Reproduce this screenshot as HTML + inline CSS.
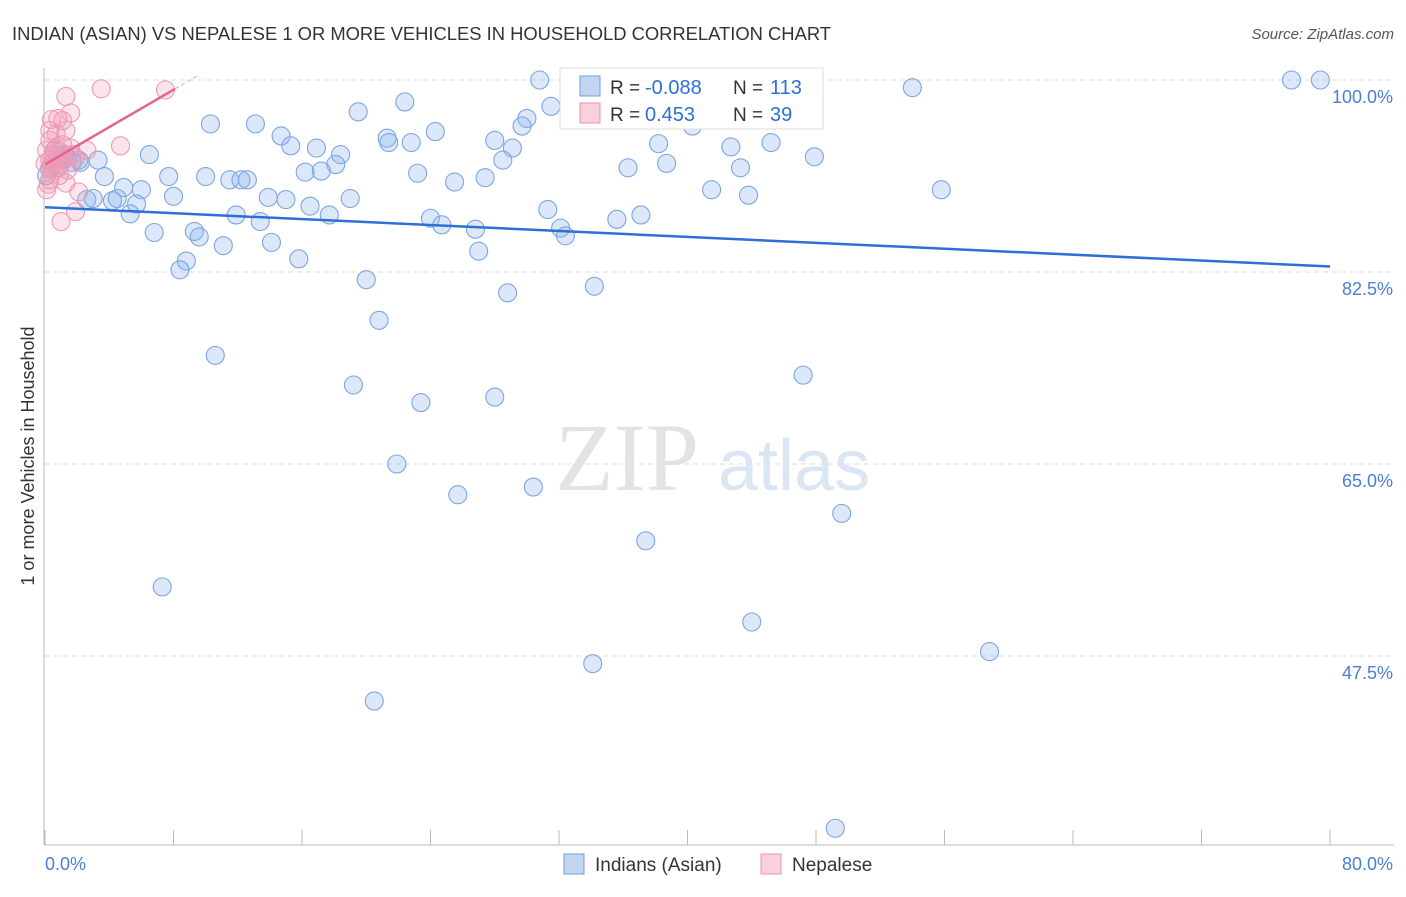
<!DOCTYPE html>
<html><head><meta charset="utf-8"><style>
body{margin:0;background:#fff;font-family:"Liberation Sans",sans-serif}
</style></head><body>
<svg id="c" width="1406" height="892" xmlns="http://www.w3.org/2000/svg"></svg>
<script>
const xTicks=[0,80];
const yTicks=[100,82.5,65,47.5];
const blueX=[30.8,47.0,77.6,79.4,54.0,22.4,19.5,31.5,30.0,29.7,10.3,13.1,24.3,14.7,21.3,21.4,22.8,28.0,15.3,16.9,29.1,18.4,6.5,3.3,18.1,28.5,38.2,42.7,45.2,47.9,38.7,36.3,43.3,16.2,17.2,23.2,27.4,25.5,7.7,3.7,10.0,11.5,12.2,12.6,4.9,6.0,8.0,41.5,43.8,55.8,2.6,3.0,4.2,4.5,5.7,5.3,13.9,15.0,16.5,19.0,17.7,11.9,13.4,31.3,24.0,24.7,26.8,35.6,37.1,32.1,32.4,6.8,9.3,9.6,11.1,14.1,27.0,8.8,8.4,15.8,20.0,28.8,34.2,20.8,10.6,19.2,23.4,28.0,47.2,21.9,25.7,30.4,49.6,37.4,7.3,44.0,34.1,58.8,20.5,49.2,0.9,1.4,1.7,0.3,0.6,1.2,2.1,2.2,0.1,0.8,36.6,40.3,40.6];
const blueY=[100,100,100,100,99.3,98.0,97.1,97.6,96.5,95.8,96.0,96.0,95.3,94.9,94.7,94.3,94.3,94.5,94.0,93.8,93.8,93.2,93.2,92.7,92.3,92.7,94.2,93.9,94.3,93.0,92.4,92.0,92.0,91.6,91.7,91.5,91.1,90.7,91.2,91.2,91.2,90.9,90.9,90.9,90.2,90.0,89.4,90.0,89.5,90.0,89.1,89.2,89.0,89.2,88.7,87.8,89.3,89.1,88.5,89.2,87.7,87.7,87.1,88.2,87.4,86.8,86.4,87.3,87.7,86.5,85.8,86.1,86.2,85.7,84.9,85.2,84.4,83.5,82.7,83.7,81.8,80.6,81.2,78.1,74.9,72.2,70.6,71.1,73.1,65.0,62.2,62.9,60.5,58.0,53.8,50.6,46.8,47.9,43.4,31.8,92.7,92.9,92.5,92.0,93.6,93.2,92.7,92.5,91.3,92.0,97.5,95.8,98.2];
const pinkX=[3.5,7.5,1.3,1.6,0.8,1.1,1.3,0.4,0.3,0.3,4.7,0.8,2.6,1.1,0.6,0.9,0.3,0.1,1.3,2.1,1.9,1.0,0.3,1.4,0.5,0,0.7,0.2,0.3,1.2,0.9,1.7,0.7,0.1,0.4,1.1,0.6,1.6,1.9];
const pinkY=[99.2,99.1,98.5,97.0,96.5,96.3,95.4,96.4,95.4,94.5,94.0,93.4,93.6,94.1,92.7,92.3,90.9,90.0,90.6,89.8,88.0,87.1,91.8,91.8,93.2,92.4,93.8,90.5,92.7,92.7,91.3,93.2,95.1,93.6,92.3,92.7,91.8,93.8,92.9];
const blueTrend=[88.4,83.0];
const pinkTrend=[92.3,99.2];
const NS="http://www.w3.org/2000/svg";
const svg=document.getElementById('c');
const X=v=>45+v/80*1285;
const Y=v=>80+(100-v)/17.5*192;
function mk(t,a,p){const e=document.createElementNS(NS,t);for(const k in a)e.setAttribute(k,a[k]);(p||svg).appendChild(e);return e;}
let t=mk('text',{x:12,y:40,'font-size':18.4,fill:'#333',textLength:819});t.textContent='INDIAN (ASIAN) VS NEPALESE 1 OR MORE VEHICLES IN HOUSEHOLD CORRELATION CHART';

t=mk('text',{x:1394,y:39,'font-size':15,fill:'#555','font-style':'italic','text-anchor':'end'});t.textContent='Source: ZipAtlas.com';

t=mk('text',{x:555,y:490,'font-size':96,fill:'#e3e3e3','font-family':'Liberation Serif'});t.textContent='ZIP';

t=mk('text',{x:718,y:490,'font-size':72,fill:'#dbe6f5'});t.textContent='atlas';

yTicks.forEach(v=>{let g=mk('line',{x1:45,x2:1394,y1:Y(v),y2:Y(v),stroke:'#ddd','stroke-dasharray':'5,4'});

let l=mk('text',{x:1393,y:Y(v)+23,'font-size':18,fill:'#4a7fd4','text-anchor':'end'});l.textContent=v.toFixed(1)+'%';
});
let a=mk('line',{x1:44,x2:44,y1:68,y2:845,stroke:'#bbb'});
a=mk('line',{x1:44,x2:1394,y1:845,y2:845,stroke:'#bbb'});
for(let i=0;i<=10;i++){let k=mk('line',{x1:X(i*8),x2:X(i*8),y1:830,y2:845,stroke:'#bbb'});}
xTicks.forEach((v,i)=>{let l=mk('text',{x:i?1393:45,y:870,'font-size':18,fill:'#4a7fd4','text-anchor':i?'end':'start'});l.textContent=v.toFixed(1)+'%';
});
t=mk('text',{x:34,y:456,'font-size':18,fill:'#333','text-anchor':'middle',transform:'rotate(-90 34 456)'});t.textContent='1 or more Vehicles in Household';

blueX.forEach((x,i)=>{let c=mk('circle',{cx:X(x),cy:Y(blueY[i]),r:9,fill:'rgba(140,180,235,0.3)',stroke:'#7aa6e2','stroke-width':1.1});
});
pinkX.forEach((x,i)=>{let c=mk('circle',{cx:X(x),cy:Y(pinkY[i]),r:9,fill:'rgba(240,150,180,0.25)',stroke:'#ef9ab6','stroke-width':1.1});
});
let tl=mk('line',{x1:X(0),y1:Y(blueTrend[0]),x2:X(80),y2:Y(blueTrend[1]),stroke:'#2d6fd6','stroke-width':2.5});

tl=mk('line',{x1:X(0),y1:Y(pinkTrend[0]),x2:X(8.1),y2:Y(pinkTrend[1]),stroke:'#e8628e','stroke-width':2.5});

const slope=(pinkTrend[1]-pinkTrend[0])/8.1;
tl=mk('line',{x1:X(8.1),y1:Y(pinkTrend[1]),x2:X(9.6),y2:Y(pinkTrend[1]+slope*1.5),stroke:'#f0a0b8','stroke-width':1,'stroke-dasharray':'4,3'});

let lg=mk('g',{});
mk('rect',{x:560,y:68,width:263,height:61,fill:'#fff',stroke:'#ddd'},lg);
mk('rect',{x:580,y:76,width:20,height:20,fill:'rgba(120,165,230,0.45)',stroke:'#6e9ee0'},lg);
mk('rect',{x:580,y:103,width:20,height:20,fill:'rgba(240,140,170,0.4)',stroke:'#ec8fae'},lg);
[[94,'R = ','-0.088','N = ','113'],[121,'R = ',' 0.453','N = ',' 39']].forEach(r=>{
let a=mk('text',{x:610,y:r[0],'font-size':19,fill:'#333'},lg);a.textContent=r[1];
a=mk('text',{x:645,y:r[0],'font-size':20,fill:'#2d6fd6','xml:space':'preserve'},lg);a.textContent=r[2];
a=mk('text',{x:733,y:r[0],'font-size':19,fill:'#333'},lg);a.textContent=r[3];
a=mk('text',{x:770,y:r[0],'font-size':20,fill:'#2d6fd6','xml:space':'preserve'},lg);a.textContent=r[4];});
let bl=mk('g',{});
mk('rect',{x:564,y:854,width:20,height:20,fill:'rgba(120,165,230,0.45)',stroke:'#6e9ee0'},bl);
let b=mk('text',{x:595,y:871,'font-size':19,fill:'#333'},bl);b.textContent='Indians (Asian)';
mk('rect',{x:761,y:854,width:20,height:20,fill:'rgba(240,140,170,0.4)',stroke:'#ec8fae'},bl);
b=mk('text',{x:792,y:871,'font-size':19,fill:'#333'},bl);b.textContent='Nepalese';
</script>
</body></html>
